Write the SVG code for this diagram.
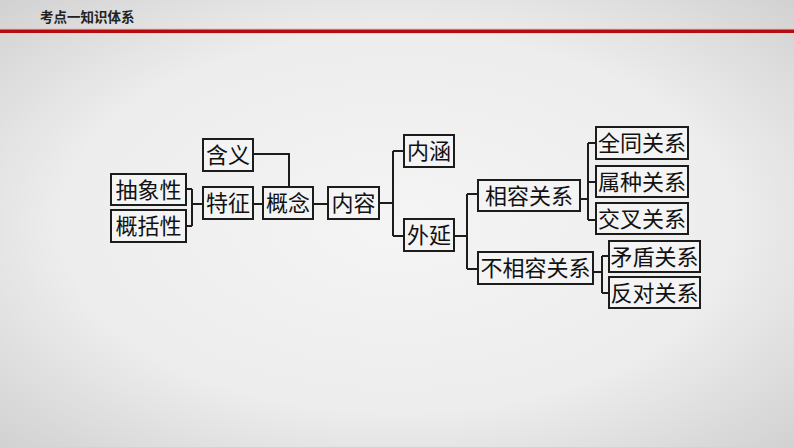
<svg xmlns="http://www.w3.org/2000/svg" width="794" height="447" viewBox="0 0 794 447">
<defs>
<radialGradient id="bg" cx="50%" cy="50%" r="70%">
<stop offset="0" stop-color="#f4f4f4"/>
<stop offset="0.6" stop-color="#ededed"/>
<stop offset="1" stop-color="#d2d2d2"/>
</radialGradient>
<style>
.box{fill:#f4f4f4;stroke:#1c1c1c;stroke-width:2}
.t{font-family:"Noto Sans CJK SC","Noto Sans CJK JP",sans-serif;font-size:22px;fill:#111;text-anchor:middle}
.c{fill:none;stroke:#1c1c1c;stroke-width:2}
</style>
</defs>
<rect width="794" height="447" fill="url(#bg)"/>
<text x="40" y="22" font-family="'Noto Sans CJK SC',sans-serif" font-size="13.5" font-weight="bold" fill="#222">考点一知识体系</text>
<rect x="0" y="28.5" width="794" height="1" fill="#e8c0c0"/>
<rect x="0" y="29.5" width="794" height="3.5" fill="#b50d0d"/>
<rect x="0" y="33" width="794" height="1" fill="#efd0d0"/>
<g id="connectors">
<path class="c" d="M186 189H192M186 226H192M192 189V226M192 204H203"/>
<path class="c" d="M253 154H289V187"/>
<path class="c" d="M253 204H263"/>
<path class="c" d="M313 204H328"/>
<path class="c" d="M379 203H393M393 151V236M393 151H404M393 236H404"/>
<path class="c" d="M454 236H467M467 194V269M467 194H478M467 269H478"/>
<path class="c" d="M580 199H588M588 143V220M588 143H596M588 182H596M588 220H596"/>
<path class="c" d="M593 272H602M602 256V293M602 256H609M602 293H609"/>
</g>
<g id="n-hanyi"><rect class="box" x="203" y="139" width="50" height="32"/><text class="t" x="228" y="163">含义</text></g>
<g id="n-chouxiang"><rect class="box" x="111" y="174" width="75" height="31"/><text class="t" x="148.5" y="197.5">抽象性</text></g>
<g id="n-gaikuo"><rect class="box" x="111" y="210" width="75" height="32"/><text class="t" x="148.5" y="234">概括性</text></g>
<g id="n-tezheng"><rect class="box" x="203" y="187" width="50" height="32"/><text class="t" x="228" y="211">特征</text></g>
<g id="n-gainian"><rect class="box" x="263" y="187" width="50" height="32"/><text class="t" x="288" y="211">概念</text></g>
<g id="n-neirong"><rect class="box" x="328" y="187" width="51" height="32"/><text class="t" x="353.5" y="211">内容</text></g>
<g id="n-neihan"><rect class="box" x="404" y="135" width="50" height="32"/><text class="t" x="429" y="159">内涵</text></g>
<g id="n-waiyan"><rect class="box" x="404" y="219" width="50" height="32"/><text class="t" x="429" y="243">外延</text></g>
<g id="n-xiangrong"><rect class="box" x="478" y="180" width="102" height="31"/><text class="t" x="529" y="203.5">相容关系</text></g>
<g id="n-buxiangrong"><rect class="box" x="478" y="252" width="115" height="32"/><text class="t" x="535.5" y="276">不相容关系</text></g>
<g id="n-quantong"><rect class="box" x="596" y="127" width="92" height="32"/><text class="t" x="642" y="151">全同关系</text></g>
<g id="n-shuzhong"><rect class="box" x="596" y="166" width="92" height="31"/><text class="t" x="642" y="189.5">属种关系</text></g>
<g id="n-jiaocha"><rect class="box" x="596" y="203" width="92" height="31"/><text class="t" x="642" y="226.5">交叉关系</text></g>
<g id="n-maodun"><rect class="box" x="609" y="241" width="91" height="31"/><text class="t" x="654.5" y="264.5">矛盾关系</text></g>
<g id="n-fandui"><rect class="box" x="609" y="277" width="91" height="31"/><text class="t" x="654.5" y="300.5">反对关系</text></g>
</svg>
